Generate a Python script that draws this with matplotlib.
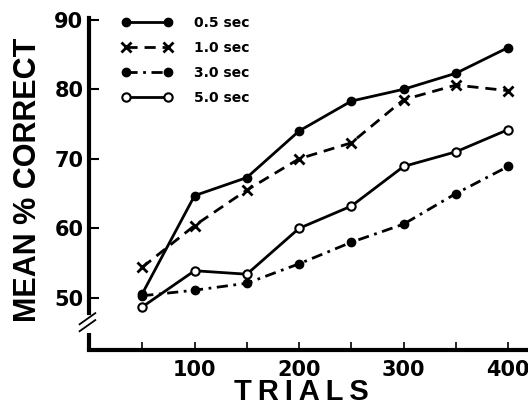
import matplotlib.pyplot as plt
import numpy as np

trials = [50, 100, 150, 200, 250, 300, 350, 400]
sec_05 = [50.6, 64.7, 67.3, 74.0, 78.3, 80.0, 82.3, 86.0]
sec_10 = [54.4, 60.4, 65.5, 70.0, 72.3, 78.5, 80.6, 79.8]
sec_30 = [50.3, 51.1, 52.1, 54.9, 58.0, 60.6, 65.0, 68.9]
sec_50 = [48.7, 53.9, 53.4, 60.0, 63.2, 68.9, 71.0, 74.2]
labels = ['0.5 sec', '1.0 sec', '3.0 sec', '5.0 sec']
yticks = [50, 60, 70, 80, 90]
xticks = [50, 100, 150, 200, 250, 300, 350, 400]
xlabels = ['', '100', '', '200', '', '300', '', '400']

plt.rcParams['font.family'] = 'DejaVu Sans'
plt.rcParams['font.weight'] = 'bold'

W, H = 528, 407
fig = plt.figure(figsize=(W / 100, H / 100), dpi=100)
ax = fig.add_axes([89 / W, (H - 350) / H, (W - 89) / W, 340 / H])
ax.set_xlim(-1, 419)
ax.set_ylim(42.5, 91.4)

lw = 2.0
ax.plot(trials, sec_05, '-', color='k', lw=lw, marker='o', ms=6, label=labels[0])
ax.plot(trials, sec_10, '--', color='k', lw=lw, marker='x', ms=7, mew=2,
        dashes=(4, 2.5), label=labels[1])
ax.plot(trials, sec_30, '-.', color='k', lw=lw, marker='o', ms=6,
        dashes=(4, 2, 1, 2), label=labels[2])
ax.plot(trials, sec_50, '-', color='k', lw=lw, marker='o', ms=6, mfc='white',
        mew=1.5, label=labels[3])

# axes
for s in ['top', 'right']:
    ax.spines[s].set_visible(False)
ax.spines['left'].set_linewidth(3)
ax.spines['left'].set_bounds(47.8, 90.3)
ax.spines['bottom'].set_linewidth(3)
ax.spines['bottom'].set_position(('data', 42.5))
# lower stub of broken y axis
ax.plot([-1, -1], [42.5, 45.0], color='k', lw=3, clip_on=False,
        solid_capstyle='butt')
# break marks
for dy in (0, 1.0):
    ax.plot([-10, 5], [45.2 + dy, 46.8 + dy], color='k', lw=1.3, clip_on=False)

ax.set_yticks(yticks)
ax.set_yticklabels([str(v) for v in yticks], fontsize=15, fontweight='bold')
ax.set_xticks(xticks)
ax.set_xticklabels(xlabels, fontsize=15, fontweight='bold')
ax.tick_params(axis='y', direction='in', length=7, width=1.5, pad=4)
ax.tick_params(axis='x', direction='in', length=6, width=1.2, pad=7)

ax.set_ylabel('MEAN % CORRECT', fontsize=22, fontweight='bold',
              family=['Liberation Sans', 'DejaVu Sans'])
ax.yaxis.set_label_coords(-0.105, 0.5)
ax.set_xlabel('T\u2009R\u2009I\u2009A\u2009L\u2009S', fontsize=21, fontweight='bold',
              family=['Liberation Sans', 'DejaVu Sans'])
ax.xaxis.set_label_coords(0.483, -0.082)

leg = ax.legend(loc='upper left', bbox_to_anchor=(122 / W, 1 - 16 / H),
                bbox_transform=fig.transFigure, frameon=False, numpoints=2,
                handlelength=3.6, handletextpad=1.6, labelspacing=0.78,
                borderpad=0, borderaxespad=0,
                prop={'size': 10, 'weight': 'bold'})

fig.savefig('out.png', dpi=100)
